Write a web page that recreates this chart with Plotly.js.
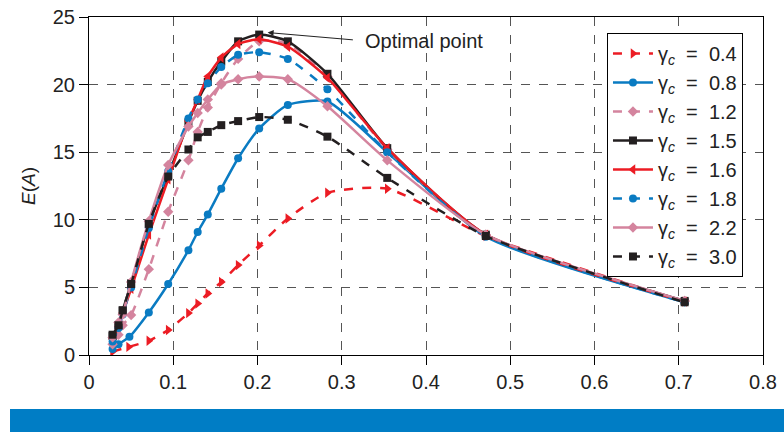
<!DOCTYPE html>
<html>
<head>
<meta charset="utf-8">
<script src="https://cdn.plot.ly/plotly-3.0.1.min.js"></script>
<style>html,body{margin:0;padding:0;background:#fff;}#chart{width:784px;height:432px;}</style>
</head>
<body>
<div id="chart"></div>
<script>
// Shared x grid for most curves
const xMain = [0.028, 0.035, 0.040, 0.050, 0.071, 0.094, 0.118, 0.129, 0.141, 0.157, 0.177, 0.202, 0.236, 0.283, 0.354, 0.471, 0.707];
const xLow  = [0.028, 0.047, 0.071, 0.094, 0.118, 0.129, 0.141, 0.157, 0.177, 0.202, 0.236, 0.283, 0.354, 0.471, 0.707];
const xBlue = [0.028, 0.035, 0.048, 0.071, 0.094, 0.118, 0.129, 0.141, 0.157, 0.177, 0.202, 0.236, 0.283, 0.354, 0.471, 0.707];

const y04 = [0.25, 0.6, 1.05, 1.85, 3.1, 3.8, 4.55, 5.4, 6.65, 8.1, 10.1, 12.0, 12.3, 8.8, 3.95];
const y08 = [0.45, 0.8, 1.35, 3.15, 5.25, 7.75, 9.1, 10.4, 12.3, 14.55, 16.75, 18.5, 18.75, 15.0, 8.75, 3.9];
const y12 = [0.8, 1.5, 2.2, 2.95, 6.35, 10.6, 14.4, 16.5, 18.3, 20.1, 21.9, 23.2, 23.05, 20.6, 15.2, 8.9, 4.0];
const y15 = [1.4, 2.2, 3.3, 5.3, 9.7, 13.3, 17.2, 18.8, 20.2, 21.7, 23.2, 23.7, 23.2, 20.8, 15.3, 8.9, 4.0];
const y16 = [1.2, 2.1, 3.1, 4.9, 8.9, 13.0, 17.3, 18.9, 20.6, 22.0, 23.0, 23.35, 22.8, 20.5, 15.3, 8.9, 3.95];
const y18 = [1.0, 2.0, 3.0, 5.0, 9.4, 13.6, 17.5, 18.9, 20.1, 21.3, 22.2, 22.4, 21.9, 19.65, 15.0, 8.8, 3.9];
const y22 = [1.3, 2.4, 3.0, 5.4, 9.9, 14.05, 16.9, 17.9, 18.9, 20.0, 20.4, 20.6, 20.4, 18.4, 14.4, 8.9, 4.0];
const y30 = [1.5, 2.2, 3.3, 5.25, 9.7, 13.2, 15.2, 16.1, 16.5, 17.0, 17.3, 17.6, 17.4, 16.15, 13.1, 8.8, 3.9];

const legendNames = ["0.4", "0.8", "1.2", "1.5", "1.6", "1.8", "2.2", "3.0"];
const xTicks = [0, 0.1, 0.2, 0.3, 0.4, 0.5, 0.6, 0.7, 0.8];
const yTicks = [0, 5, 10, 15, 20, 25];

const RED = "#EC1C24", BLUE = "#0A7BC2", PINK = "#D4849E", BLACK = "#231F20";
const FONT = "Liberation Sans, Arial, sans-serif";

function tr(x, y, name, color, dash, symbol, msize) {
  return {
    x: x, y: y, type: "scatter", mode: "lines+markers",
    name: "γ<sub><i>c</i></sub>  =  " + name,
    line: {color: color, width: 2.5, dash: dash, shape: "spline", smoothing: 0.6},
    marker: {color: color, symbol: symbol, size: msize}
  };
}

const data = [
  tr(xLow,  y04, legendNames[0], RED,   "dash",  "triangle-right", 9),
  tr(xBlue, y08, legendNames[1], BLUE,  "solid", "circle", 8),
  tr(xMain, y12, legendNames[2], PINK,  "dash",  "diamond", 8),
  tr(xMain, y15, legendNames[3], BLACK, "solid", "square", 8),
  tr(xMain, y16, legendNames[4], RED,   "solid", "triangle-left", 9),
  tr(xMain, y18, legendNames[5], BLUE,  "dash",  "circle", 8),
  tr(xMain, y22, legendNames[6], PINK,  "solid", "diamond", 8),
  tr(xMain, y30, legendNames[7], BLACK, "dash",  "square", 8)
];

const axisCommon = {
  showline: true, linecolor: "#000", linewidth: 1, mirror: true,
  ticks: "outside", ticklen: 9, tickcolor: "#000",
  showgrid: true, gridcolor: "#555", griddash: "dash", gridwidth: 1,
  zeroline: false,
  tickfont: {family: FONT, size: 20, color: "#222"}
};

const layout = {
  width: 784, height: 432,
  margin: {l: 89, r: 21, t: 17, b: 77},
  paper_bgcolor: "#fff", plot_bgcolor: "#fff",
  showlegend: true,
  xaxis: Object.assign({}, axisCommon, {range: [0, 0.8], tickvals: xTicks, ticktext: xTicks.map(String)}),
  yaxis: Object.assign({}, axisCommon, {range: [0, 25], tickvals: yTicks, ticktext: yTicks.map(String),
    title: {text: "<i>E</i>(<i>A</i>)", standoff: 12, font: {family: FONT, size: 19, color: "#222"}}}),
  legend: {
    x: 0.7685, y: 0.9527, xanchor: "left", yanchor: "top",
    bgcolor: "#fff", bordercolor: "#000", borderwidth: 1,
    font: {family: FONT, size: 20, color: "#222"},
    tracegroupgap: 0, itemwidth: 40
  },
  annotations: [{
    x: 0.212, y: 23.85, xref: "x", yref: "y",
    ax: 0.315, ay: 23.3, axref: "x", ayref: "y",
    showarrow: true, arrowhead: 2, arrowsize: 1.2, arrowwidth: 1, arrowcolor: "#222",
    text: ""
  }, {
    x: 0.325, y: 23.25, xref: "x", yref: "y", xanchor: "left", showarrow: false,
    text: "Optimal point",
    font: {family: FONT, size: 20, color: "#222"}
  }],
  shapes: [{
    type: "rect", xref: "paper", yref: "paper",
    x0: -0.1172, x1: 1.04, y0: -0.1598, y1: -0.235,
    fillcolor: "#007DC5", line: {width: 0}, layer: "above"
  }]
};

Plotly.newPlot("chart", data, layout, {displayModeBar: false, staticPlot: true});
</script>
</body>
</html>
